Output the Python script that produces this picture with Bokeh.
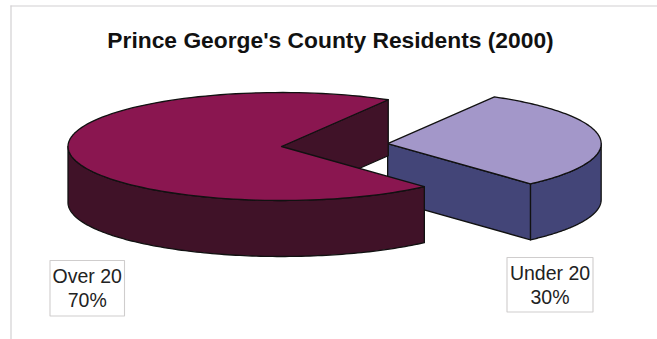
import numpy as np
from bokeh.embed import file_html
from bokeh.models import Range1d
from bokeh.plotting import figure
from bokeh.resources import INLINE
from bokeh.core.properties import value

TITLE = "Prince George's County Residents (2000)"
categories = ["Over 20", "Under 20"]
shares = [70, 30]

top_colors = ["#8a1650", "#a397c9"]
side_colors = ["#401228", "#434578"]

# Pie projection, in page pixels
CENTER = (281.0, 146.0)
RX, RY = 213.5, 54.0
DEPTH = 56.0
START_DEG = 60.0
EXPLODE = 0.5

W, H = 657, 339
p = figure(width=W, height=H, output_backend="svg", toolbar_location=None,
           x_range=Range1d(0, W), y_range=Range1d(H, 0),
           min_border=0, outline_line_color=None, background_fill_color="white")
p.axis.visible = False
p.grid.visible = False


def rim(cx, cy, a0, a1):
    t = np.radians(np.linspace(a0, a1, 120))
    return cx + RX * np.cos(t), cy - RY * np.sin(t)


def face(xs, ys, color):
    p.patch(list(xs), list(ys), fill_color=color, line_color="#111111",
            line_width=1.3, line_join="round")


# Counter-clockwise sweep: the large slice runs from START_DEG, the small one follows it
sweep_big = 360.0 * shares[0] / sum(shares)
big_a0, big_a1 = START_DEG, START_DEG + sweep_big
small_a0, small_a1 = big_a1, START_DEG + 360.0

mid = np.radians((small_a0 + small_a1) / 2)
sx = CENTER[0] + EXPLODE * RX * np.cos(mid)
sy = CENTER[1] - EXPLODE * RY * np.sin(mid)

# Detached slice: cut wall, outer rim, then top
ex, ey = rim(sx, sy, small_a0, small_a0)
face([sx, ex[0], ex[0], sx], [sy, ey[0], ey[0] + DEPTH, sy + DEPTH], side_colors[1])
rx, ry = rim(sx, sy, small_a0, 360.0)
face(np.r_[rx, rx[::-1]], np.r_[ry, ry[::-1] + DEPTH], side_colors[1])
tx, ty = rim(sx, sy, small_a0, small_a1)
face(np.r_[sx, tx], np.r_[sy, ty], top_colors[1])

# Main slice: back wall, outer rim, then top
cx, cy = CENTER
ex, ey = rim(cx, cy, big_a0, big_a0)
face([cx, ex[0], ex[0], cx], [cy, ey[0], ey[0] + DEPTH, cy + DEPTH], side_colors[0])
rx, ry = rim(cx, cy, 180.0, big_a1)
face(np.r_[rx, rx[::-1]], np.r_[ry, ry[::-1] + DEPTH], side_colors[0])
tx, ty = rim(cx, cy, big_a0, big_a1)
face(np.r_[cx, tx], np.r_[cy, ty], top_colors[0])

# Frame lines along the top and left of the page
p.segment([10, 10.5], [5.5, 5], [W, 10.5], [5.5, H], line_color="#d2d0d2", line_width=1.2)

p.text([330], [39], text=[TITLE], text_font=value("Liberation Sans"), text_font_style="bold",
       text_font_size="22.8px", text_align="center", text_baseline="middle", text_color="#111111")

# Label boxes
boxes = [(49.5, 124.0, 260.0, 315.5), (506.5, 592.5, 257.0, 311.5)]
for (x0, x1, y0, y1), name, share in zip(boxes, categories, shares):
    p.quad(left=[x0], right=[x1], top=[y0], bottom=[y1], fill_color="white",
           line_color="#cfcdcd", line_width=1.1)
    xc = (x0 + x1) / 2
    p.text([xc, xc], [y0 + 15.5, y0 + 39], text=[name, f"{share}%"],
           text_font=value("Liberation Sans"), text_font_size="19.5px",
           text_align="center", text_baseline="middle", text_color="#222222")

open("out.html", "w").write(file_html(p, INLINE))
